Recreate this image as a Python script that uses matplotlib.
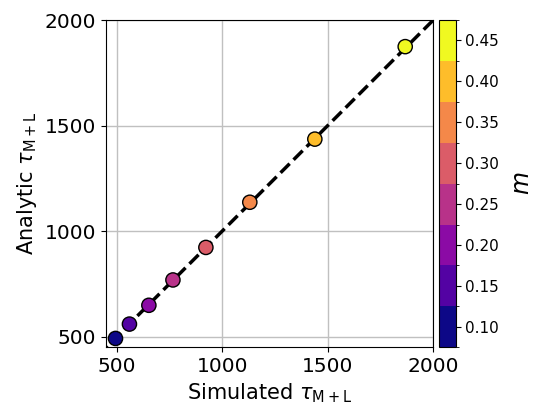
import matplotlib
matplotlib.use('Agg')
import matplotlib.pyplot as plt
import matplotlib.colors as mcolors
import numpy as np

# ── Data ──────────────────────────────────────────────────────────────
m_vals    = [0.10, 0.15, 0.20, 0.25, 0.30, 0.35, 0.40, 0.45]
simulated = [495, 561, 653, 767, 923, 1131, 1439, 1867]
analytic  = [492, 560, 649, 769, 923, 1137, 1436, 1874]
cbar_ticks = [0.10, 0.15, 0.20, 0.25, 0.30, 0.35, 0.40, 0.45]
axis_ticks = [500, 1000, 1500, 2000]

fig = plt.figure(figsize=(5.4, 4.19), dpi=100)
ax = fig.add_axes([0.1963, 0.1711, 0.6061, 0.7811])
cax = fig.add_axes([0.813, 0.1711, 0.0309, 0.7811])

bounds = np.arange(0.075, 0.476, 0.05)
cmap = plt.get_cmap('plasma', len(bounds) - 1)
norm = mcolors.BoundaryNorm(bounds, cmap.N)

lims = (450, 2000)
ax.plot([0, 2500], [0, 2500], 'k--', lw=2.5, zorder=2)
sc = ax.scatter(simulated, analytic, c=m_vals, cmap=cmap, norm=norm,
                s=105, edgecolors='black', linewidths=1.0, zorder=3)

ax.set_xlim(*lims)
ax.set_ylim(*lims)
ax.set_xticks(axis_ticks)
ax.set_yticks(axis_ticks)
ax.tick_params(labelsize=14.5)
ax.grid(True, color='#c0c0c0', linewidth=1.0, zorder=0)
ax.set_axisbelow(True)
ax.set_xlabel(r'Simulated $\tau_{\mathrm{M+L}}$', fontsize=15)
ax.set_ylabel(r'Analytic $\tau_{\mathrm{M+L}}$', fontsize=15)

cb = fig.colorbar(sc, cax=cax, ticks=cbar_ticks)
cb.ax.tick_params(labelsize=11)
cb.ax.set_yticklabels([f'{t:.2f}' for t in cbar_ticks])
cb.set_label(r'$m$', fontsize=17, labelpad=8)

fig.savefig('out.png', dpi=100, facecolor='white')
plt.close()
